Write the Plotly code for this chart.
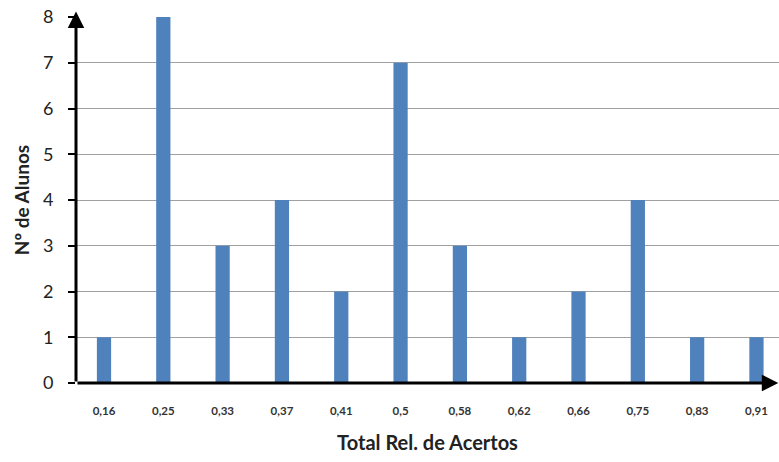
import plotly.graph_objects as go

# Relative score categories and number of students in each
categorias = ["0,16", "0,25", "0,33", "0,37", "0,41", "0,5",
              "0,58", "0,62", "0,66", "0,75", "0,83", "0,91"]
n_alunos = [1, 8, 3, 4, 2, 7, 3, 1, 2, 4, 1, 1]

fonte = "Lato, 'Open Sans', sans-serif"

fig = go.Figure(
    go.Bar(
        x=list(range(len(categorias))),
        y=n_alunos,
        marker=dict(color="#4f81bd", line=dict(width=0)),
        width=0.24,
    )
)

fig.update_layout(
    width=779,
    height=462,
    margin=dict(l=76, r=0, t=17, b=79),
    paper_bgcolor="white",
    plot_bgcolor="white",
    showlegend=False,
    font=dict(family=fonte, color="#222222"),
)

fig.update_xaxes(
    tickmode="array",
    tickvals=list(range(len(categorias))),
    ticktext=categorias,
    range=[-0.472, 11.38],
    showgrid=False,
    zeroline=False,
    showline=False,
    ticks="",
    ticklabelstandoff=19,
    tickfont=dict(size=11.5, family=fonte, color="#333333", weight="bold"),
    title=dict(text="<b>Total Rel. de Acertos</b>", font=dict(size=20, color="#222222"),
               standoff=20),
)

fig.update_yaxes(
    range=[0, 8],
    dtick=1,
    showgrid=True,
    gridcolor="#a0a0a0",
    gridwidth=1,
    zeroline=False,
    showline=False,
    ticks="outside",
    ticklen=7,
    tickwidth=2,
    tickcolor="black",
    ticklabelstandoff=11,
    tickfont=dict(size=18, color="#222222"),
    title=dict(text="<b>Nº de Alunos</b>", font=dict(size=19, color="#222222"),
               standoff=8),
)

# Axes drawn as arrows
fig.add_annotation(
    xref="x domain", yref="y domain", axref="x domain", ayref="y domain",
    x=0, y=1.015, ax=0, ay=0,
    showarrow=True, arrowhead=2, arrowsize=1.1, arrowwidth=3,
    arrowcolor="black", text="",
)
fig.add_annotation(
    xref="x domain", yref="y domain", axref="x domain", ayref="y domain",
    x=0.999, y=0, ax=0, ay=0,
    showarrow=True, arrowhead=2, arrowsize=1.1, arrowwidth=3,
    arrowcolor="black", text="",
)

fig.write_html("out.html")
